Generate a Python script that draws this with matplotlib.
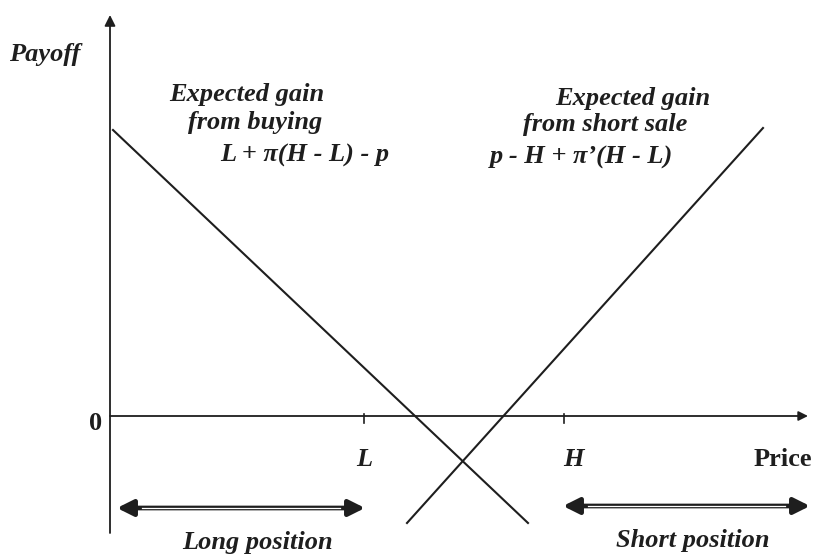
import matplotlib.pyplot as plt

# price / payoff units (origin where the axes cross)
L_price = 2.54
H_price = 4.54
buy_price = [0.03, 4.18]
buy_payoff = [2.86, -1.07]
short_price = [2.97, 6.53]
short_payoff = [-1.07, 2.88]
long_range = [0.07, 2.55]
short_range = [4.53, 7.00]

plt.rcParams['font.family'] = ['Liberation Serif', 'DejaVu Serif']
ink = '#1e1e1e'
fs = 19

fig = plt.figure(figsize=(8.13, 5.56), dpi=100)
ax = fig.add_axes([0, 0, 1, 1])
ax.set_xlim(-1.10, 7.03)
ax.set_ylim(-1.40, 4.16)
ax.axis('off')

# axes with arrows
ax.annotate('', xy=(0, 4.01), xytext=(0, -1.17),
            arrowprops=dict(arrowstyle='-|>', color=ink, lw=1.3,
                            mutation_scale=16, shrinkA=0, shrinkB=0))
ax.annotate('', xy=(6.98, 0), xytext=(0, 0),
            arrowprops=dict(arrowstyle='-|>', color=ink, lw=1.3,
                            mutation_scale=14, shrinkA=0, shrinkB=0))
for p in [L_price, H_price]:
    ax.plot([p, p], [0.02, -0.07], color=ink, lw=1.2)

# payoff lines
ax.plot(buy_price, buy_payoff, color=ink, lw=1.5)
ax.plot(short_price, short_payoff, color=ink, lw=1.5)

# position ranges (double arrows)
for (x0, x1), y in [(long_range, -0.92), (short_range, -0.90)]:
    ax.annotate('', xy=(x1, y), xytext=(x0, y),
                arrowprops=dict(arrowstyle='<|-|>', color=ink, lw=3.4,
                                mutation_scale=24, shrinkA=0, shrinkB=0))
    ax.plot([x0 + 0.25, x1 - 0.25], [y, y], color='white', lw=0.9, zorder=5)

bi = dict(fontweight='bold', fontstyle='italic', color=ink)
ax.text(-0.65, 3.61, 'Payoff', fontsize=fs, ha='center', va='center', **bi)
ax.text(-0.14, -0.07, '0', fontsize=fs, ha='center', va='center',
        fontweight='bold', color=ink)
ax.text(L_price, -0.44, 'L', fontsize=fs, ha='center', va='center', **bi)
ax.text(H_price + 0.09, -0.44, 'H', fontsize=fs, ha='center', va='center', **bi)
ax.text(6.73, -0.44, 'Price', fontsize=fs, ha='center', va='center',
        fontweight='bold', color=ink)

ax.text(1.37, 3.21, 'Expected gain', fontsize=fs, ha='center', va='center', **bi)
ax.text(1.45, 2.93, 'from buying', fontsize=fs, ha='center', va='center', **bi)
ax.text(1.95, 2.61, 'L + \u03c0(H - L) - p', fontsize=fs, ha='center',
        va='center', **bi)

ax.text(5.23, 3.18, 'Expected gain', fontsize=fs, ha='center', va='center', **bi)
ax.text(4.95, 2.91, 'from short sale', fontsize=fs, ha='center', va='center', **bi)
ax.text(4.72, 2.59, 'p - H + \u03c0\u2019(H - L)', fontsize=fs, ha='center',
        va='center', **bi)

ax.text(1.47, -1.26, 'Long position', fontsize=fs, ha='center', va='center', **bi)
ax.text(5.83, -1.24, 'Short position', fontsize=fs, ha='center', va='center', **bi)

fig.savefig('out.png', dpi=100)
